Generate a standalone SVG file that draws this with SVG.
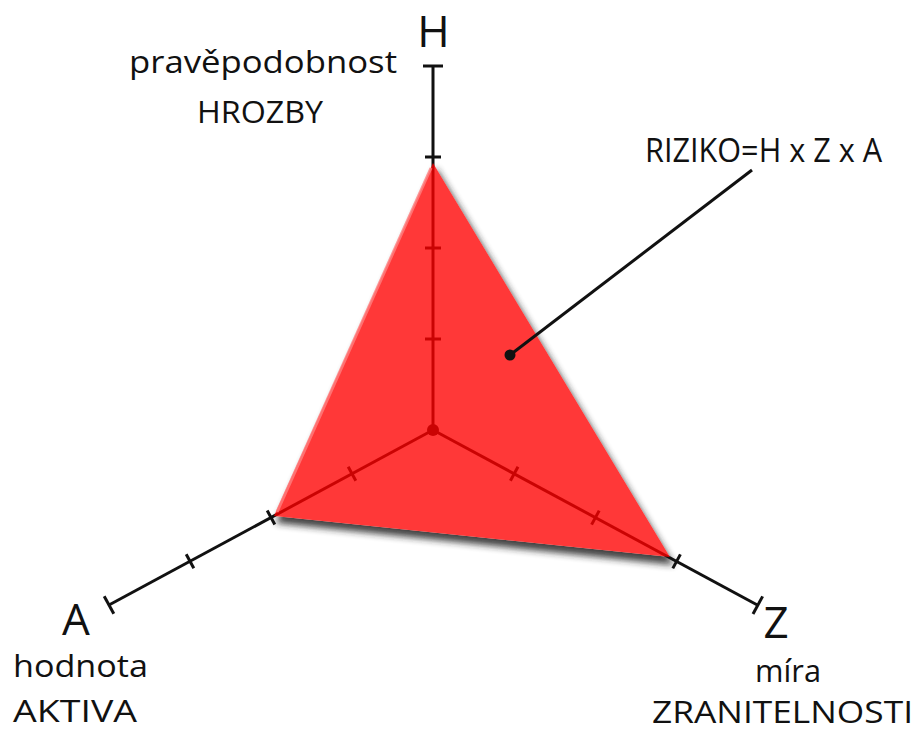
<svg xmlns="http://www.w3.org/2000/svg" width="920" height="733" viewBox="0 0 920 733">
<style>
.t{font-family:"Open Sans",Lato,"Liberation Sans",sans-serif;fill:#111;}
.ax{stroke:#111;stroke-width:3;fill:none;stroke-linecap:butt;}
.tk{stroke:#111;stroke-width:3;}
</style>
<defs>
<filter id="sh" x="-20%" y="-20%" width="140%" height="140%">
<feGaussianBlur stdDeviation="3.5"/>
</filter>
</defs>
<rect width="920" height="733" fill="#fff"/>
<g id="triangle-shadow">
<polygon points="436,168 276,523 674,565" fill="#222" opacity="0.85" filter="url(#sh)"/>
<polygon points="433,163 274,516 670,557" fill="#fff"/>
</g>
<g id="connectors">
<line class="ax" x1="433" y1="430" x2="433" y2="66"/>
<line class="ax" x1="433" y1="430" x2="109" y2="605"/>
<line class="ax" x1="433" y1="430" x2="757.8" y2="605.2"/>
<g class="tk">
<line x1="425" y1="339" x2="441" y2="339"/>
<line x1="425" y1="248" x2="441" y2="248"/>
<line x1="423" y1="66" x2="443" y2="66"/>
<line x1="348.2" y1="466.7" x2="355.8" y2="480.7"/>
<line x1="510.4" y1="480.8" x2="518.0" y2="466.8"/>
<line x1="591.6" y1="524.6" x2="599.2" y2="510.6"/>
</g>
<circle cx="433" cy="430" r="6" fill="#111"/>
</g>
<g id="triangle">
<polygon points="433,163 274,516 670,557" fill="#ff0000" fill-opacity="0.78"/>
<line x1="431" y1="168" x2="277" y2="512" stroke="#ff8080" stroke-width="3" opacity="0.8"/>
</g>
<g id="outer-ticks" class="tk">
<line x1="425" y1="157" x2="441" y2="157"/>
<line x1="267.2" y1="510.5" x2="274.8" y2="524.5"/>
<line x1="186.2" y1="554.2" x2="193.8" y2="568.2"/>
<line x1="104.2" y1="596.2" x2="113.8" y2="613.8"/>
<line x1="672.8" y1="568.4" x2="680.4" y2="554.4"/>
<line x1="753.0" y1="614.0" x2="762.6" y2="596.4"/>
</g>
<g id="leader">
<line x1="510" y1="355" x2="752" y2="170" stroke="#111" stroke-width="3"/>
<circle cx="510" cy="355" r="5.5" fill="#111"/>
</g>
<g id="label-H">
<text class="t" x="433.5" y="47" font-size="44" text-anchor="middle">H</text>
<text class="t" x="263" y="73" font-size="31" text-anchor="middle" textLength="268" lengthAdjust="spacingAndGlyphs">pravěpodobnost</text>
<text class="t" x="260" y="123" font-size="31" text-anchor="middle" textLength="126" lengthAdjust="spacingAndGlyphs">HROZBY</text>
</g>
<g id="label-riziko">
<text class="t" x="645" y="162" font-size="32" textLength="237" lengthAdjust="spacingAndGlyphs">RIZIKO=H x Z x A</text>
</g>
<g id="label-A">
<text class="t" x="76" y="635" font-size="44" text-anchor="middle">A</text>
<text class="t" x="13" y="677" font-size="31" textLength="135" lengthAdjust="spacingAndGlyphs">hodnota</text>
<text class="t" x="13" y="722" font-size="31" textLength="124" lengthAdjust="spacingAndGlyphs">AKTIVA</text>
</g>
<g id="label-Z">
<text class="t" x="776" y="638" font-size="44" text-anchor="middle">Z</text>
<text class="t" x="788" y="682" font-size="31" text-anchor="middle" textLength="66" lengthAdjust="spacingAndGlyphs">míra</text>
<text class="t" x="652" y="723" font-size="31" textLength="261" lengthAdjust="spacingAndGlyphs">ZRANITELNOSTI</text>
</g>
</svg>
